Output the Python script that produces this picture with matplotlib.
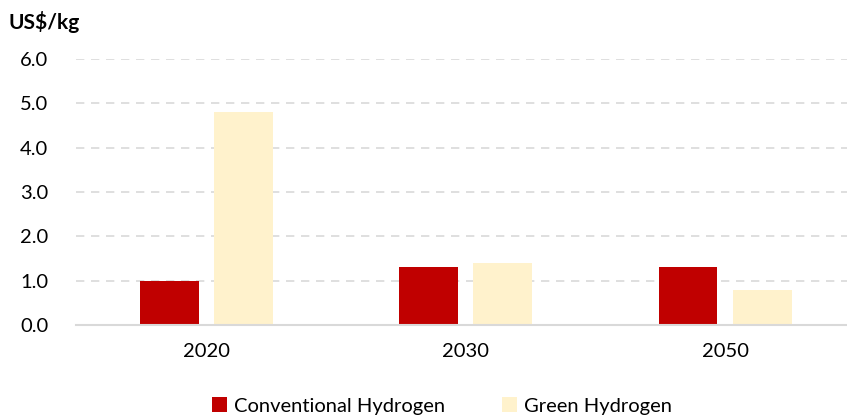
import matplotlib.pyplot as plt
import numpy as np

years = ['2020', '2030', '2050']
conventional = [1.0, 1.3, 1.3]
green = [4.8, 1.4, 0.8]

plt.rcParams['font.family'] = ['Lato', 'DejaVu Sans']

fig = plt.figure(figsize=(8.47, 4.18), dpi=100)
ax = fig.add_axes([76 / 847, 1 - 325 / 418, (847 - 76) / 847, (325 - 59) / 418])

x = np.arange(len(years))
w = 0.227
ax.bar(x - 0.143, conventional, w, color='#c00000', label='Conventional Hydrogen', zorder=3)
ax.bar(x + 0.143, green, w, color='#fff2cc', label='Green Hydrogen', zorder=3)

ax.set_xlim(-0.503, 2.47)
ax.set_ylim(0, 6.0)
ax.set_yticks(np.arange(0, 6.01, 1.0))
ax.set_yticklabels(['%.1f' % v for v in np.arange(0, 6.01, 1.0)])
ax.set_xticks(x)
ax.set_xticklabels(years)
ax.tick_params(axis='both', length=0, labelsize=14.5, colors='#000000')
ax.tick_params(axis='y', pad=20)
ax.tick_params(axis='x', pad=13)

ax.yaxis.grid(True, color='#d9d9d9', linestyle=(0, (5, 4)), linewidth=1.2, zorder=0)
for s in ['top', 'right', 'left']:
    ax.spines[s].set_visible(False)
ax.spines['bottom'].set_color('#d9d9d9')
ax.spines['bottom'].set_linewidth(1.5)
ax.spines['bottom'].set_zorder(4)

fig.text(8 / 847, 1 - 22 / 418, 'US$/kg', fontsize=15, fontweight='bold', va='center', ha='left')

ax.legend(loc='center', bbox_to_anchor=(442 / 847, 1 - 406 / 418), bbox_transform=fig.transFigure,
          ncol=2, frameon=False, fontsize=14.5, handlelength=0.75, handleheight=0.75,
          handletextpad=0.35, columnspacing=2.8)

fig.savefig('out.png', dpi=100)
